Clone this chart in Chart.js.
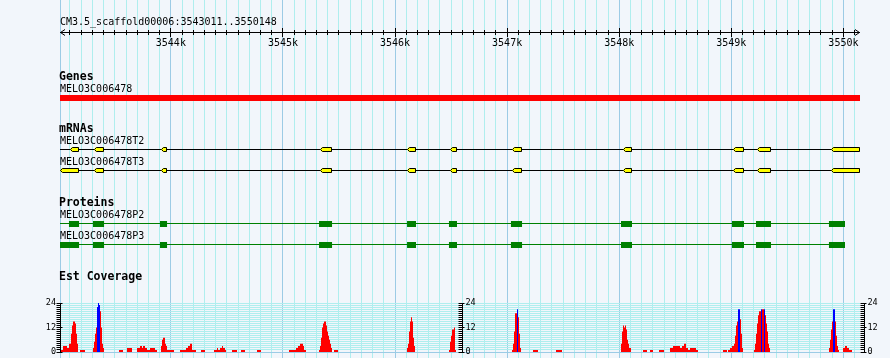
<!DOCTYPE html>
<html><head><meta charset="utf-8">
<script src="https://cdn.jsdelivr.net/npm/chart.js@4.4.1/dist/chart.umd.min.js"></script>
<style>
html,body{margin:0;padding:0;background:#f2f6fb;}
#wrap{position:relative;width:890px;height:358px;overflow:hidden;}
canvas{position:absolute;left:0;}
#c1{top:0;}
#c2{top:290px;}
</style></head><body>
<div id="wrap"><canvas id="c1" width="890" height="358"></canvas><canvas id="c2" width="890" height="68"></canvas></div>
<script>
// ---------------- data ----------------
const seqName = 'CM3.5_scaffold00006';
const regionStart = 3543011;
const regionEnd = 3550148;
const rulerLabelValues = [3544000, 3545000, 3546000, 3547000, 3548000, 3549000, 3550000];
const rulerLabels = ['3544k', '3545k', '3546k', '3547k', '3548k', '3549k', '3550k'];
const trackTitles = ['Genes', 'mRNAs', 'Proteins', 'Est Coverage'];

const geneNames = ['MELO3C006478'];
const geneSpans = [[3543011, 3550148]];

const mrnaNames = ['MELO3C006478T2', 'MELO3C006478T3'];
const mrnaSpans = [[3543011, 3550148], [3543011, 3550148]];
const mrnaT2Exons = [[3543100,3543181],[3543314,3543401],[3543909,3543963],[3545330,3545438],[3546109,3546187],[3546490,3546550],[3547043,3547130],[3548031,3548111],[3549018,3549110],[3549232,3549351],[3549886,3550148]];
const mrnaT3Exons = [[3543011,3543181],[3543314,3543401],[3543909,3543963],[3545330,3545438],[3546109,3546187],[3546490,3546550],[3547043,3547130],[3548031,3548111],[3549018,3549110],[3549232,3549351],[3549886,3550148]];

const proteinNames = ['MELO3C006478P2', 'MELO3C006478P3'];
const proteinSpans = [[3543011, 3550014], [3543011, 3550014]];
const proteinP2Cds = [[3543091,3543181],[3543305,3543404],[3543903,3543966],[3545322,3545438],[3546107,3546187],[3546481,3546553],[3547034,3547133],[3548016,3548114],[3549006,3549113],[3549220,3549354],[3549871,3550014]];
const proteinP3Cds = [[3543011,3543181],[3543305,3543404],[3543903,3543966],[3545322,3545438],[3546107,3546187],[3546481,3546553],[3547034,3547133],[3548016,3548114],[3549006,3549113],[3549220,3549354],[3549871,3550014]];

// EST coverage: histogram bins across the region, sparse runs [firstBin, [values...]]
const covBinCount = 800;
const covMax = 24;
const covTickLabels = [0, 12, 24];
const estCovRed = [
  [1,[1,1,3,3,3,3,2,2,4,4,9,13,15,15,14,9,4]],
  [20,[1,1,1,1,1]],
  [33,[2,5,9,12,20,20,20,20,12,4,2]],
  [59,[1,1,1,1]],
  [67,[2,2,2,2,2]],
  [77,[2,2,2,3,3,2,3,3,2,2,1,1,1,2,2,2,2,2,1,1]],
  [101,[3,6,7,7,4,3,1,1,1,1,1,1,1]],
  [120,[1,1,1,1,1,1,2,2,3,3,4,4,1,1,1,1]],
  [141,[1,1,1,1]],
  [154,[1,1,1,2,1,1,2,2,3,2,2,1]],
  [172,[1,1,1,1,1]],
  [181,[1,1,1,1]],
  [197,[1,1,1,1]],
  [229,[1,1,1,1,1,1,1,2,2,3,3,4,4,4,3,1,1]],
  [259,[1,3,7,12,14,15,15,13,10,8,6,4,2]],
  [274,[1,1,1,1]],
  [347,[2,4,10,15,17,15,7,3]],
  [389,[1,5,8,11,11,12,1]],
  [452,[1,4,10,19,19,20,17,9,2]],
  [473,[1,1,1,1,1]],
  [496,[1,1,1,1,1,1]],
  [561,[4,10,13,12,13,11,6,4,2,2]],
  [583,[1,1,1,1]],
  [590,[1,1,1]],
  [599,[1,1,1,1,1]],
  [610,[2,2,2,3,3,3,3,3,3,3,2,2,3,3,4,4,2,2,1,1,2,2,2,2,2,2,1,1]],
  [663,[1,1,1,1]],
  [668,[1,1,2,2,3,3,4,8,13,15,18,18,16,9,2]],
  [694,[1,4,9,14,18,20,20,20,21,21,20,18,14,10,4,2]],
  [769,[2,6,11,15,18,18,15,8,3,1]],
  [783,[2,2,3,3,2,2,1,1,1]]
];
const estCovBlue = [
  [37,[22,24,23]],
  [457,[21]],
  [678,[21,21]],
  [701,[21]],
  [704,[21]],
  [773,[21,21]]
];

// ---------------- styles / layout ----------------
const BG = '#f2f6fb';
const GRID_MINOR = '#afeeee';
const GRID_MAJOR = '#9ccbe5';
const FONT = '10px "DejaVu Sans Mono", "Liberation Mono", monospace';
const FONT_BOLD = 'bold 11.5px "DejaVu Sans Mono", "Liberation Mono", monospace';
const FONT_TINY = '8.5px "DejaVu Sans Mono", "Liberation Mono", monospace';

const gridValues = [regionStart];
for (let v = Math.ceil(regionStart / 100) * 100; v < regionEnd; v += 100) gridValues.push(v);

function rows(spans, y) { return spans.map(s => ({ x: s, y: y })); }

const barCommon = { type: 'bar', stack: 'tracks', inflateAmount: 0, borderWidth: 0 };

const trackDatasets = [
  Object.assign({}, barCommon, { label: 'gene', data: rows(geneSpans, 98), barThickness: 6, backgroundColor: '#ff0000', order: 3 }),
  Object.assign({}, barCommon, { label: 'T2 line', data: rows([mrnaSpans[0]], 149.5), barThickness: 1, backgroundColor: '#000000', order: 3 }),
  Object.assign({}, barCommon, { label: 'T3 line', data: rows([mrnaSpans[1]], 170.5), barThickness: 1, backgroundColor: '#000000', order: 3 }),
  Object.assign({}, barCommon, { label: 'P2 line', data: rows([proteinSpans[0]], 223.5), barThickness: 1, backgroundColor: '#008000', order: 3 }),
  Object.assign({}, barCommon, { label: 'P3 line', data: rows([proteinSpans[1]], 244.5), barThickness: 1, backgroundColor: '#008000', order: 3 }),
  Object.assign({}, barCommon, { label: 'T2 exons', data: rows(mrnaT2Exons, 149.5), barThickness: 5, backgroundColor: 'rgba(0,0,0,0)', exonShape: true, exonFill: '#ffff00', order: 1 }),
  Object.assign({}, barCommon, { label: 'T3 exons', data: rows(mrnaT3Exons, 170.5), barThickness: 5, backgroundColor: 'rgba(0,0,0,0)', exonShape: true, exonFill: '#ffff00', order: 1 }),
  Object.assign({}, barCommon, { label: 'P2 cds', data: rows(proteinP2Cds, 224), barThickness: 6, backgroundColor: '#008000', order: 1 }),
  Object.assign({}, barCommon, { label: 'P3 cds', data: rows(proteinP3Cds, 245), barThickness: 6, backgroundColor: '#008000', order: 1 })
];

const exonPlugin = {
  id: 'exonShapes',
  afterDatasetsDraw(chart) {
    const ctx = chart.ctx;
    chart.data.datasets.forEach((ds, i) => {
      if (!ds.exonShape) return;
      const meta = chart.getDatasetMeta(i);
      meta.data.forEach(el => {
        const p = el.getProps(['x', 'y', 'base', 'height'], true);
        const L = Math.round(Math.min(p.x, p.base)), R = Math.round(Math.max(p.x, p.base));
        const T = Math.round(p.y - p.height / 2), B = Math.round(p.y + p.height / 2);
        const cy = (T + B) / 2;
        ctx.save();
        ctx.beginPath();
        ctx.moveTo(L, cy); ctx.lineTo(L + 2, T); ctx.lineTo(R, T); ctx.lineTo(R, B); ctx.lineTo(L + 2, B); ctx.closePath();
        ctx.fillStyle = ds.exonFill; ctx.fill();
        ctx.beginPath();
        ctx.moveTo(L + 0.5, cy); ctx.lineTo(L + 2.5, T + 0.5); ctx.lineTo(R - 0.5, T + 0.5);
        ctx.lineTo(R - 0.5, B - 0.5); ctx.lineTo(L + 2.5, B - 0.5); ctx.closePath();
        ctx.strokeStyle = '#000'; ctx.lineWidth = 1; ctx.stroke();
        ctx.restore();
      });
    });
  }
};

const annotPlugin = {
  id: 'annot',
  afterDraw(chart) {
    const ctx = chart.ctx, xs = chart.scales.x, a = chart.chartArea;
    const al = v => Math.round(v - 0.5) + 0.5;
    ctx.save();
    ctx.strokeStyle = '#000'; ctx.lineWidth = 1;
    const ry = 32.5;
    ctx.beginPath(); ctx.moveTo(a.left, ry); ctx.lineTo(a.right, ry); ctx.stroke();
    ctx.beginPath(); ctx.moveTo(a.left + 5, ry - 3); ctx.lineTo(a.left + 0.5, ry); ctx.lineTo(a.left + 5, ry + 3); ctx.stroke();
    ctx.beginPath(); ctx.moveTo(a.right - 5, ry - 3); ctx.lineTo(a.right - 0.5, ry); ctx.lineTo(a.right - 5, ry + 3); ctx.stroke();
    gridValues.forEach(v => {
      if (v === regionStart) return;
      const px = al(xs.getPixelForValue(v));
      const major = v % 1000 === 0;
      ctx.beginPath();
      ctx.moveTo(px, major ? 28 : 30); ctx.lineTo(px, major ? 37 : 35); ctx.stroke();
    });
    ctx.fillStyle = '#000';
    ctx.font = FONT; ctx.textBaseline = 'alphabetic';
    ctx.textAlign = 'left';
    ctx.fillText(seqName + ':' + regionStart + '..' + regionEnd, 60, 25);
    ctx.textAlign = 'center';
    rulerLabelValues.forEach((v, i) => ctx.fillText(rulerLabels[i], xs.getPixelForValue(v), 46));
    ctx.textAlign = 'left';
    ctx.font = FONT_BOLD;
    const titleY = [80, 132, 206, 280];
    trackTitles.forEach((t, i) => ctx.fillText(t, 59, titleY[i]));
    ctx.font = FONT;
    ctx.fillText(geneNames[0], 60, 92);
    ctx.fillText(mrnaNames[0], 60, 144);
    ctx.fillText(mrnaNames[1], 60, 165);
    ctx.fillText(proteinNames[0], 60, 218);
    ctx.fillText(proteinNames[1], 60, 239);
    ctx.restore();
  }
};

new Chart(document.getElementById('c1'), {
  type: 'bar',
  data: { datasets: trackDatasets },
  options: {
    responsive: false, animation: false, events: [],
    indexAxis: 'y',
    layout: { padding: { left: 60, right: 30, top: 0, bottom: 0 } },
    plugins: { legend: { display: false }, tooltip: { enabled: false } },
    scales: {
      x: {
        type: 'linear', min: regionStart, max: regionEnd, stacked: false, beginAtZero: false, position: 'bottom',
        afterBuildTicks: s => { s.ticks = gridValues.map(v => ({ value: v })); },
        afterFit: s => { s.height = 0; },
        ticks: { display: false }, border: { display: false },
        grid: { drawTicks: false, lineWidth: 1,
          color: c => (c.tick && (c.tick.value % 1000 === 0 || c.tick.value === regionStart)) ? GRID_MAJOR : GRID_MINOR }
      },
      y: { type: 'linear', min: 0, max: 358, reverse: true, offset: false, display: false }
    }
  },
  plugins: [exonPlugin, annotPlugin]
});

// ---------------- coverage ----------------
const binBp = (regionEnd - regionStart) / covBinCount;
function covPoints(runs) {
  const pts = [{ x: regionStart, y: 0 }];
  runs.forEach(([b, vals]) => {
    vals.forEach((v, k) => pts.push({ x: regionStart + (b + k) * binBp, y: v }));
    pts.push({ x: regionStart + (b + vals.length) * binBp, y: 0 });
  });
  pts.push({ x: regionEnd, y: 0 });
  return pts;
}

const covAxisX = [60.5, 462.5, 864.5];
const covAxisPlugin = {
  id: 'covAxes',
  afterDraw(chart) {
    const ctx = chart.ctx, ys = chart.scales.y;
    ctx.save();
    ctx.strokeStyle = '#000'; ctx.lineWidth = 1; ctx.fillStyle = '#000';
    ctx.font = FONT_TINY; ctx.textBaseline = 'middle';
    const yTop = Math.round(ys.getPixelForValue(covMax)), yBot = Math.round(ys.getPixelForValue(0));
    covAxisX.forEach((ax, idx) => {
      ctx.beginPath(); ctx.moveTo(ax, yTop); ctx.lineTo(ax, yBot + 1); ctx.stroke();
      for (let v = 0; v <= covMax; v++) {
        const py = Math.round(ys.getPixelForValue(v) - 0.5) + 0.5;
        const major = covTickLabels.indexOf(v) >= 0;
        ctx.beginPath(); ctx.moveTo(ax - 4, py); ctx.lineTo(major ? ax + 2 : ax, py); ctx.stroke();
      }
      covTickLabels.forEach(v => {
        const py = ys.getPixelForValue(v);
        if (idx === 0) { ctx.textAlign = 'right'; ctx.fillText(String(v), ax - 4.5, py); }
        else { ctx.textAlign = 'left'; ctx.fillText(String(v), ax + 3, py); }
      });
    });
    ctx.restore();
  }
};

new Chart(document.getElementById('c2'), {
  type: 'line',
  data: {
    datasets: [
      { label: 'EST coverage (blue)', data: covPoints(estCovBlue), stepped: true, fill: 'origin',
        backgroundColor: '#0000ff', borderColor: 'rgba(0,0,0,0)', borderWidth: 0, pointRadius: 0, order: 0 },
      { label: 'EST coverage (red)', data: covPoints(estCovRed), stepped: true, fill: 'origin',
        backgroundColor: '#ff0000', borderColor: 'rgba(0,0,0,0)', borderWidth: 0, pointRadius: 0, order: 1 }
    ]
  },
  options: {
    responsive: false, animation: false, events: [],
    layout: { padding: { left: 60, right: 30, top: 13, bottom: 6 } },
    plugins: { legend: { display: false }, tooltip: { enabled: false } },
    scales: {
      x: { type: 'linear', min: regionStart, max: regionEnd, display: false },
      y: {
        type: 'linear', min: 0, max: covMax, position: 'left',
        afterBuildTicks: s => { const t = []; for (let v = 0; v <= covMax; v++) t.push({ value: v }); s.ticks = t; },
        afterFit: s => { s.width = 0; },
        ticks: { display: false }, border: { display: false },
        grid: { drawTicks: false, lineWidth: 1, color: c => (c.tick && c.tick.value === 0) ? GRID_MAJOR : GRID_MINOR }
      }
    }
  },
  plugins: [covAxisPlugin]
});
</script>
</body></html>
